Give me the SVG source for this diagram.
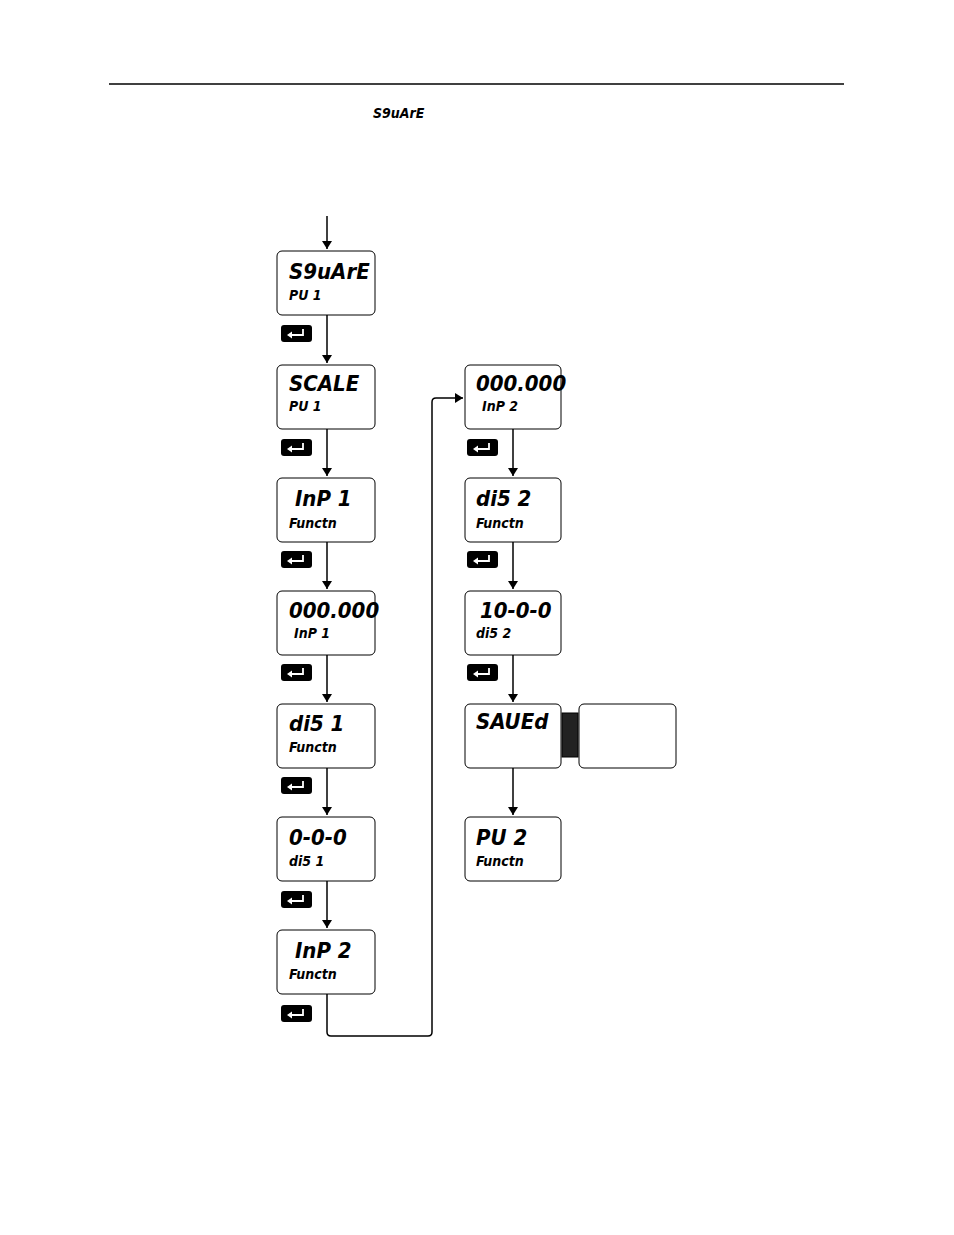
<svg xmlns="http://www.w3.org/2000/svg" width="954" height="1235" viewBox="0 0 954 1235">
<defs>
<marker id="ah" markerWidth="8" markerHeight="10" refX="8" refY="5" orient="auto" markerUnits="userSpaceOnUse"><path d="M0,0 L8,5 L0,10 Z" fill="#000"/></marker>
<g id="ent"><rect x="0" y="0" width="31" height="17" rx="3" fill="#000"/><path d="M22,4 V10 H9" fill="none" stroke="#fff" stroke-width="1.8"/><path d="M6,10 L11,6.5 L11,13.5 Z" fill="#fff"/></g>
</defs>
<style>
.box{fill:#fff;stroke:#000;stroke-width:1;}
.l1{font-family:"DejaVu Sans Condensed","DejaVu Sans",sans-serif;font-weight:bold;font-style:italic;font-size:22px;}
.l2{font-family:"DejaVu Sans Condensed","DejaVu Sans",sans-serif;font-weight:bold;font-style:italic;font-size:14px;}
.c{fill:none;stroke:#000;stroke-width:1.5;}
</style>
<rect width="954" height="1235" fill="#fff"/>
<line x1="109" y1="84" x2="844" y2="84" stroke="#000" stroke-width="1.5"/>
<text x="373" y="118" class="l2" font-size="17">S9uArE</text>
<g id="connectors">
<path class="c" d="M327,216 V249" marker-end="url(#ah)"/>
<path class="c" d="M327,315 V363" marker-end="url(#ah)"/>
<path class="c" d="M327,429 V476" marker-end="url(#ah)"/>
<path class="c" d="M327,542 V589" marker-end="url(#ah)"/>
<path class="c" d="M327,655 V702" marker-end="url(#ah)"/>
<path class="c" d="M327,768 V815" marker-end="url(#ah)"/>
<path class="c" d="M327,881 V928" marker-end="url(#ah)"/>
<path class="c" d="M327,994 V1032 Q327,1036 331,1036 H428 Q432,1036 432,1032 V402 Q432,398 436,398 H463" marker-end="url(#ah)"/>
<path class="c" d="M513,429 V476" marker-end="url(#ah)"/>
<path class="c" d="M513,542 V589" marker-end="url(#ah)"/>
<path class="c" d="M513,655 V702" marker-end="url(#ah)"/>
<path class="c" d="M513,768 V815" marker-end="url(#ah)"/>
</g>
<g id="n1"><rect class="box" x="277" y="251" width="98" height="64" rx="5"/><text class="l1" x="289" y="279">S9uArE</text><text class="l2" x="289" y="300">PU  1</text><use href="#ent" x="281" y="325"/></g>
<g id="n2"><rect class="box" x="277" y="365" width="98" height="64" rx="5"/><text class="l1" x="289" y="391">SCALE</text><text class="l2" x="289" y="411">PU  1</text><use href="#ent" x="281" y="439"/></g>
<g id="n3"><rect class="box" x="277" y="478" width="98" height="64" rx="5"/><text class="l1" x="295" y="506">InP  1</text><text class="l2" x="289" y="528">Functn</text><use href="#ent" x="281" y="551"/></g>
<g id="n4"><rect class="box" x="277" y="591" width="98" height="64" rx="5"/><text class="l1" x="289" y="618">000.000</text><text class="l2" x="294" y="638">InP  1</text><use href="#ent" x="281" y="664"/></g>
<g id="n5"><rect class="box" x="277" y="704" width="98" height="64" rx="5"/><text class="l1" x="289" y="731">di5  1</text><text class="l2" x="289" y="752">Functn</text><use href="#ent" x="281" y="777"/></g>
<g id="n6"><rect class="box" x="277" y="817" width="98" height="64" rx="5"/><text class="l1" x="289" y="845">0-0-0</text><text class="l2" x="289" y="866">di5  1</text><use href="#ent" x="281" y="891"/></g>
<g id="n7"><rect class="box" x="277" y="930" width="98" height="64" rx="5"/><text class="l1" x="295" y="958">InP  2</text><text class="l2" x="289" y="979">Functn</text><use href="#ent" x="281" y="1005"/></g>
<g id="n8"><rect class="box" x="465" y="365" width="96" height="64" rx="5"/><text class="l1" x="476" y="391">000.000</text><text class="l2" x="482" y="411">InP  2</text><use href="#ent" x="467" y="439"/></g>
<g id="n9"><rect class="box" x="465" y="478" width="96" height="64" rx="5"/><text class="l1" x="476" y="506">di5  2</text><text class="l2" x="476" y="528">Functn</text><use href="#ent" x="467" y="551"/></g>
<g id="n10"><rect class="box" x="465" y="591" width="96" height="64" rx="5"/><text class="l1" x="480" y="618">10-0-0</text><text class="l2" x="476" y="638">di5  2</text><use href="#ent" x="467" y="664"/></g>
<g id="n11"><rect class="box" x="465" y="704" width="96" height="64" rx="5"/><text class="l1" x="476" y="729">SAUEd</text><rect x="562" y="713" width="16" height="44" fill="#222" stroke="#000"/><rect class="box" x="579" y="704" width="97" height="64" rx="5"/></g>
<g id="n12"><rect class="box" x="465" y="817" width="96" height="64" rx="5"/><text class="l1" x="476" y="845">PU  2</text><text class="l2" x="476" y="866">Functn</text></g>
</svg>
